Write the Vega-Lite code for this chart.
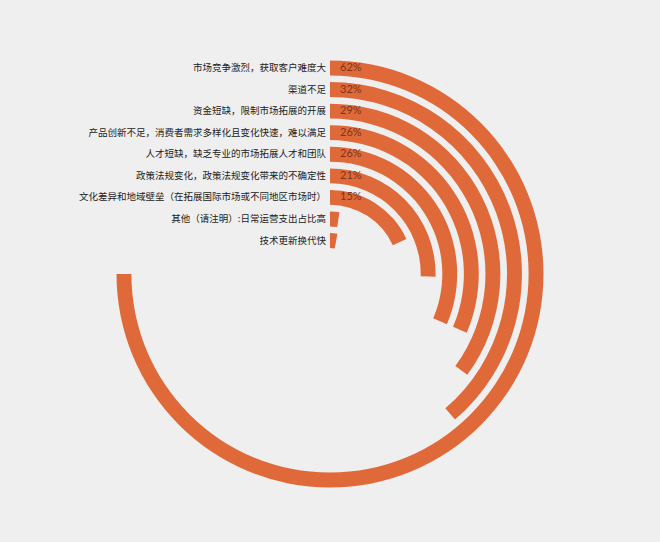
{
  "$schema": "https://vega.github.io/schema/vega-lite/v6.json",
  "autosize": {"type": "fit", "contains": "padding"},
  "width": 660,
  "height": 542,
  "padding": {"top": 11, "bottom": 5, "left": 5, "right": 5},
  "background": "#efefef",
  "view": {"stroke": null},
  "config": {"font": "Noto Sans CJK SC"},
  "data": {
    "values": [
      {"label": "市场竞争激烈，获取客户难度大", "v": 0.62},
      {"label": "渠道不足", "v": 0.32},
      {"label": "资金短缺，限制市场拓展的开展", "v": 0.29},
      {"label": "产品创新不足，消费者需求多样化且变化快速，难以满足", "v": 0.26},
      {"label": "人才短缺，缺乏专业的市场拓展人才和团队", "v": 0.26},
      {"label": "政策法规变化，政策法规变化带来的不确定性", "v": 0.21},
      {"label": "文化差异和地域壁垒（在拓展国际市场或不同地区市场时）", "v": 0.15},
      {"label": "其他（请注明）:日常运营支出占比高", "v": 0.02},
      {"label": "技术更新换代快", "v": 0.024}
    ]
  },
  "encoding": {
    "radius": {
      "field": "label",
      "type": "nominal",
      "sort": null,
      "scale": {
        "type": "band",
        "domain": [
          "技术更新换代快",
          "其他（请注明）:日常运营支出占比高",
          "文化差异和地域壁垒（在拓展国际市场或不同地区市场时）",
          "政策法规变化，政策法规变化带来的不确定性",
          "人才短缺，缺乏专业的市场拓展人才和团队",
          "产品创新不足，消费者需求多样化且变化快速，难以满足",
          "资金短缺，限制市场拓展的开展",
          "渠道不足",
          "市场竞争激烈，获取客户难度大"
        ],
        "range": [26, 213.5],
        "paddingInner": 0.31,
        "paddingOuter": 0
      },
      "legend": null
    }
  },
  "layer": [
    {
      "mark": {"type": "arc", "color": "#e0693a"},
      "encoding": {
        "theta": {
          "field": "v",
          "type": "quantitative",
          "stack": null,
          "scale": {"domain": [0, 0.62], "range": [0, 4.712389], "zero": true, "nice": false}
        }
      }
    },
    {
      "mark": {"type": "text", "align": "right", "baseline": "middle", "dx": -4, "fontSize": 9.5, "color": "#222222"},
      "encoding": {
        "theta": {"datum": 0, "type": "quantitative"},
        "radius": {"field": "label", "type": "nominal", "bandPosition": 0.5},
        "text": {"field": "label"}
      }
    },
    {
      "transform": [{"filter": "datum.v > 0.05"}],
      "mark": {"type": "text", "align": "left", "baseline": "middle", "dx": 10, "fontSize": 11, "font": "Lato", "color": "#7d3418"},
      "encoding": {
        "theta": {"datum": 0, "type": "quantitative"},
        "radius": {"field": "label", "type": "nominal", "bandPosition": 0.5},
        "text": {"field": "v", "type": "quantitative", "format": ".0%"}
      }
    }
  ]
}
